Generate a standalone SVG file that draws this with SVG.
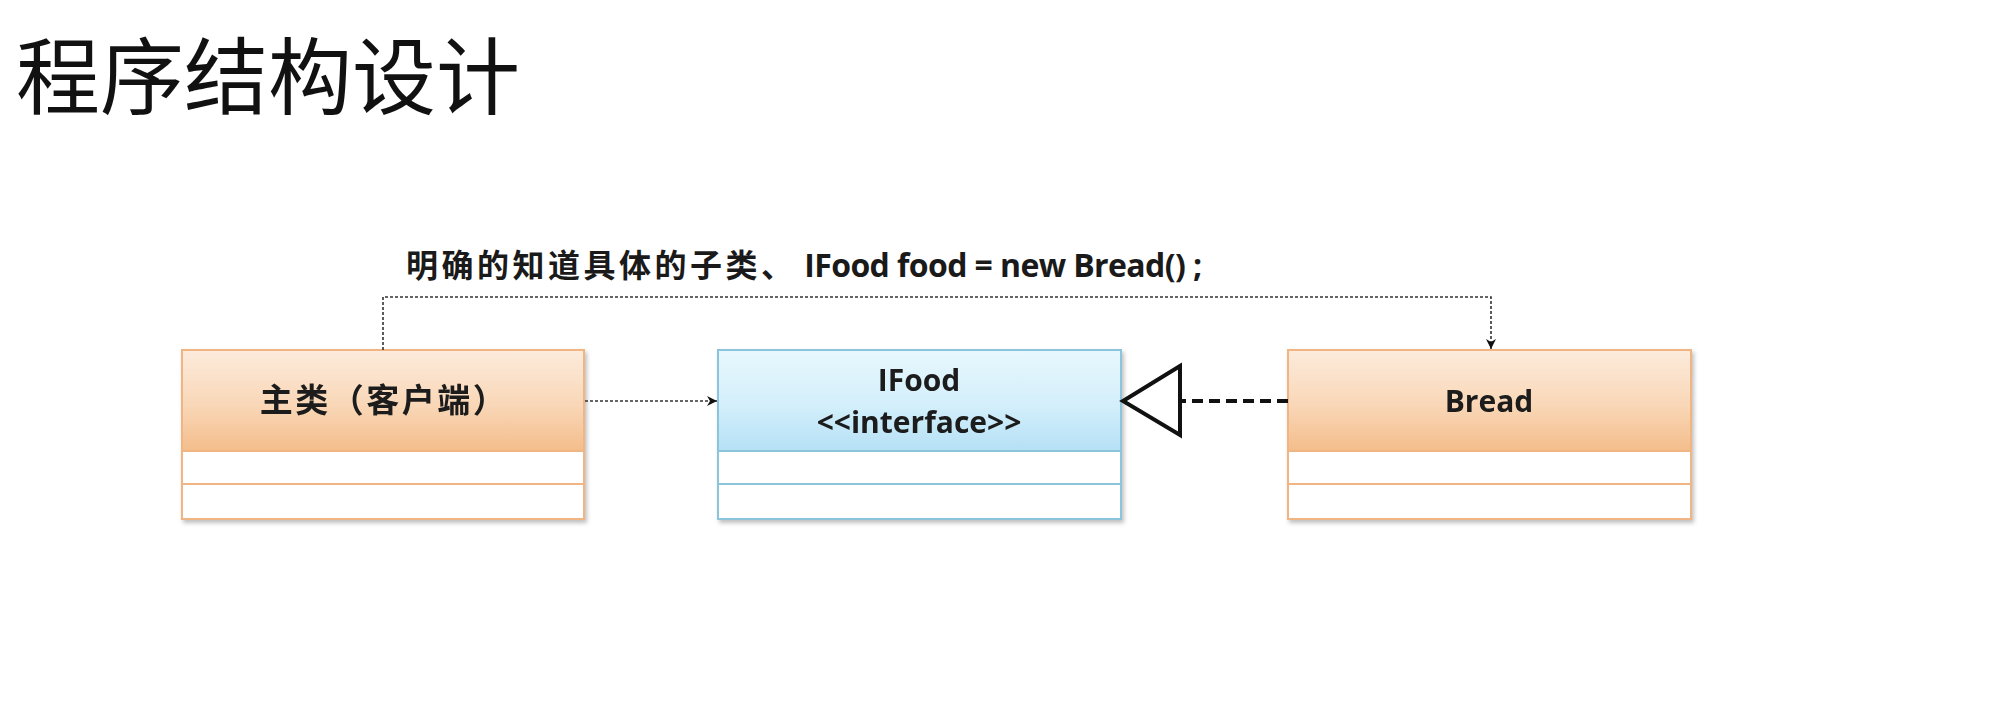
<svg xmlns="http://www.w3.org/2000/svg" width="2008" height="710" viewBox="0 0 2008 710">
<style>
.title{font-family:"Noto Sans CJK SC","Noto Sans",sans-serif;font-size:84px;font-weight:normal;fill:#111}
.lbl{font-family:"Noto Sans CJK SC","Noto Sans",sans-serif;font-size:32px;font-weight:bold;fill:#1a1a1a}
.lat{font-family:"Open Sans","Noto Sans CJK SC",sans-serif;font-size:32px;letter-spacing:-0.6px}
.nt{font-family:"Open Sans","Noto Sans CJK SC",sans-serif;font-size:30px;font-weight:bold;fill:#1a1a1a;text-anchor:middle}
.ntc{font-family:"Noto Sans CJK SC",sans-serif;font-size:33px;font-weight:bold;fill:#1a1a1a;text-anchor:middle;letter-spacing:2.5px}
.orange .hd{fill:url(#og);stroke:#f0b583;stroke-width:2}
.orange .bd{fill:#fff;stroke:#f0b583;stroke-width:2}
.orange .ln{stroke:#f0b583;stroke-width:2}
.blue .hd{fill:url(#bg);stroke:#8cc4dc;stroke-width:2}
.blue .bd{fill:#fff;stroke:#8cc4dc;stroke-width:2}
.blue .ln{stroke:#8cc4dc;stroke-width:2}
.thin{fill:none;stroke:#333;stroke-width:1.6;stroke-dasharray:3 2}
.thick{fill:none;stroke:#111;stroke-width:4;stroke-dasharray:11 6}
</style>
<defs>
<linearGradient id="og" x1="0" y1="0" x2="0" y2="1">
<stop offset="0" stop-color="#fcebdc"/>
<stop offset="0.55" stop-color="#f9d7b7"/>
<stop offset="1" stop-color="#f4bd8b"/>
</linearGradient>
<linearGradient id="bg" x1="0" y1="0" x2="0" y2="1">
<stop offset="0" stop-color="#e8f7fd"/>
<stop offset="0.55" stop-color="#d3effb"/>
<stop offset="1" stop-color="#b5e0f5"/>
</linearGradient>
<filter id="sh" x="-5%" y="-5%" width="110%" height="115%">
<feDropShadow dx="2" dy="3" stdDeviation="2" flood-color="#000" flood-opacity="0.25"/>
</filter>
<marker id="ah" viewBox="0 0 10 10" refX="10" refY="5" markerWidth="10" markerHeight="10" markerUnits="userSpaceOnUse" orient="auto">
<path d="M0,0 L10,5 L0,10 L3,5 Z" fill="#111"/>
</marker>
</defs>
<rect width="2008" height="710" fill="#fff"/>
<text class="title" x="16" y="108">程序结构设计</text>
<text class="lbl" x="406" y="277"><tspan letter-spacing="3.5">明确的知道具体的子类、</tspan><tspan class="lat"> IFood food = new Bread() ;</tspan></text>

<g id="main" class="orange" filter="url(#sh)">
<rect class="bd" x="182" y="350" width="402" height="169"/>
<rect class="hd" x="182" y="350" width="402" height="101"/>
<line class="ln" x1="182" y1="484" x2="584" y2="484"/>
<text class="ntc" x="384" y="412">主类（客户端）</text>
</g>

<g id="ifood" class="blue" filter="url(#sh)">
<rect class="bd" x="718" y="350" width="403" height="169"/>
<rect class="hd" x="718" y="350" width="403" height="101"/>
<line class="ln" x1="718" y1="484" x2="1121" y2="484"/>
<text class="nt" x="919" y="391">IFood</text>
<text class="nt" x="919" y="433">&lt;&lt;interface&gt;&gt;</text>
</g>

<g id="bread" class="orange" filter="url(#sh)">
<rect class="bd" x="1288" y="350" width="403" height="169"/>
<rect class="hd" x="1288" y="350" width="403" height="101"/>
<line class="ln" x1="1288" y1="484" x2="1691" y2="484"/>
<text class="nt" x="1489" y="412">Bread</text>
</g>

<g id="connectors">
<path class="thin" d="M383,350 V297 H1491 V349" marker-end="url(#ah)"/>
<path class="thin" d="M585,401 H717" marker-end="url(#ah)"/>
<path class="thick" d="M1288,401 H1180"/>
<path d="M1180,366 L1123,401 L1180,435 Z" fill="#fff" stroke="#111" stroke-width="4" stroke-linejoin="miter"/>
</g>
</svg>
